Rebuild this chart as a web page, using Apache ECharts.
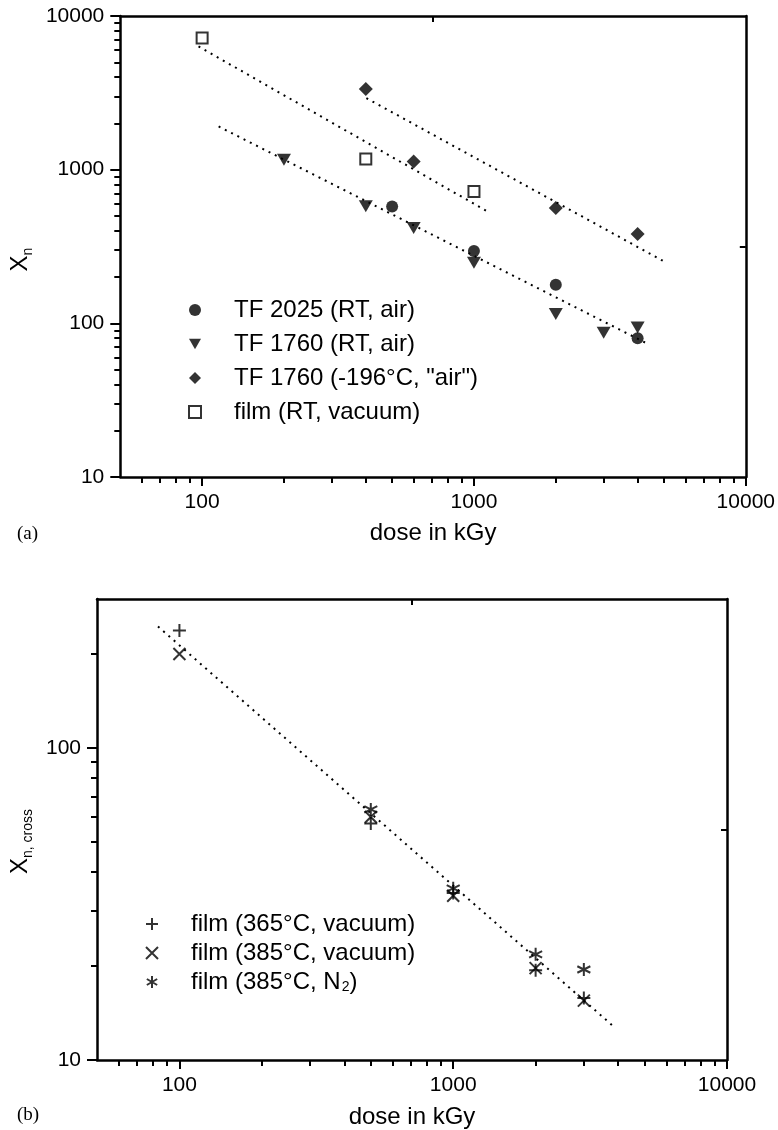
<!DOCTYPE html>
<html>
<head>
<meta charset="utf-8">
<script src="https://cdn.jsdelivr.net/npm/echarts@6/dist/echarts.min.js"></script>
<style>
html,body{margin:0;padding:0;background:#fff;}
#chart{width:778px;height:1130px;}
</style>
</head>
<body>
<div id="chart"></div>
<script>
// ---------- Panel (a) data ----------
const doseTF2025 = [500, 1000, 2000, 4000];
const xnTF2025 = [576, 296, 178, 80];
const doseTF1760 = [200, 400, 600, 1000, 2000, 3000, 4000];
const xnTF1760 = [1160, 577, 417, 248, 115, 87, 94];
const doseTF1760cold = [400, 600, 2000, 4000];
const xnTF1760cold = [3350, 1130, 562, 381];
const doseFilmA = [100, 400, 1000];
const xnFilmA = [7200, 1175, 721];
const fitFilmDose = [97, 1130];
const fitFilmXn = [6340, 530];
const fitColdDose = [402, 5080];
const fitColdXn = [2920, 249];
const fitRTDose = [115, 4420];
const fitRTXn = [1910, 72.6];

// ---------- Panel (b) data ----------
const dose365v = [100, 500, 1000, 2000, 3000];
const xc365v = [238, 57.3, 34.3, 19.4, 15.8];
const dose385v = [100, 500, 1000, 2000, 3000];
const xc385v = [200, 60.1, 33.6, 19.7, 15.5];
const dose385n = [500, 1000, 2000, 3000];
const xc385n = [63.5, 35.5, 21.8, 19.5];
const fitBDose = [83.5, 3855];
const fitBXc = [245, 12.8];

// ---------- axis ticks ----------
const xMajorTicks = [100, 1000, 10000];
const xMinorTicks = [60, 70, 80, 90, 200, 300, 400, 500, 600, 700, 800, 900, 2000, 3000, 4000, 5000, 6000, 7000, 8000, 9000];
const xMidTick = [707];
const yMajorTicksA = [10, 100, 1000, 10000];
const yMinorTicksA = [20, 30, 40, 50, 60, 70, 80, 90, 200, 300, 400, 500, 600, 700, 800, 900, 2000, 3000, 4000, 5000, 6000, 7000, 8000, 9000];
const yMidTickA = [316];
const yMajorTicksB = [10, 100];
const yMinorTicksB = [20, 30, 40, 50, 60, 70, 80, 90, 200];
const yMidTickB = [54.8];

const namesA = ['TF 2025 (RT, air)', 'TF 1760 (RT, air)', 'TF 1760 (-196°C, "air")', 'film (RT, vacuum)'];
const namesB = ['film (365°C, vacuum)', 'film (385°C, vacuum)', 'film (385°C, N2)'];

const FONT = 'Liberation Sans, Arial, Helvetica, sans-serif';
const zip = (a, b) => a.map((v, i) => [v, b[i]]);

const TRI_DOWN = 'path://M0,0 L12,0 L6,10.5 Z';
const PLUS = 'path://M5,0 L5,10 M0,5 L10,5';
const CROSS = 'path://M0,0 L10,10 M0,10 L10,0';
const STAR = 'path://M5,0 L5,10 M0.7,2.5 L9.3,7.5 M0.7,7.5 L9.3,2.5';

function xAxesFor(grid, min, max, nameGap) {
  return [
    { type: 'log', gridIndex: grid, position: 'bottom', min: min, max: max, logBase: 10,
      name: 'dose in kGy', nameLocation: 'middle', nameGap: nameGap,
      nameTextStyle: { fontFamily: FONT, fontSize: 24, color: '#000' },
      axisLine: { show: true, onZero: false, lineStyle: { color: '#000', width: 2.5 } },
      axisTick: { show: true, inside: false, length: 9, customValues: xMajorTicks, lineStyle: { color: '#000', width: 2 } },
      axisLabel: { show: true, customValues: xMajorTicks, margin: 15, fontFamily: FONT, fontSize: 21, color: '#000', formatter: v => String(Math.round(v)) },
      splitLine: { show: false }, minorTick: { show: false } },
    { type: 'log', gridIndex: grid, position: 'bottom', min: min, max: max,
      axisLine: { show: false, onZero: false },
      axisTick: { show: true, inside: false, length: 6, customValues: xMinorTicks, lineStyle: { color: '#000', width: 2 } },
      axisLabel: { show: false }, splitLine: { show: false } },
    { type: 'log', gridIndex: grid, position: 'top', min: min, max: max,
      axisLine: { show: true, onZero: false, lineStyle: { color: '#000', width: 2.5 } },
      axisTick: { show: true, inside: true, length: 6, customValues: xMidTick, lineStyle: { color: '#000', width: 2 } },
      axisLabel: { show: false }, splitLine: { show: false } }
  ];
}

function yAxesFor(grid, min, max, major, minor, mid, name, nameGap, namePad) {
  return [
    { type: 'log', gridIndex: grid, position: 'left', min: min, max: max,
      name: name, nameLocation: 'middle', nameGap: nameGap, nameRotate: 90,
      nameTextStyle: { fontFamily: FONT, color: '#000', padding: namePad,
        rich: { x: { fontFamily: FONT, fontSize: 24, color: '#000', lineHeight: 30 },
                sub: { fontFamily: FONT, fontSize: 14, color: '#000', lineHeight: 14, verticalAlign: 'bottom' } } },
      axisLine: { show: true, onZero: false, lineStyle: { color: '#000', width: 2.5 } },
      axisTick: { show: true, inside: false, length: 10, customValues: major, lineStyle: { color: '#000', width: 2 } },
      axisLabel: { show: true, customValues: major, margin: 16, fontFamily: FONT, fontSize: 21, color: '#000', formatter: v => String(Math.round(v)) },
      splitLine: { show: false } },
    { type: 'log', gridIndex: grid, position: 'left', min: min, max: max,
      axisLine: { show: false, onZero: false },
      axisTick: { show: true, inside: false, length: 6, customValues: minor, lineStyle: { color: '#000', width: 2 } },
      axisLabel: { show: false }, splitLine: { show: false } },
    { type: 'log', gridIndex: grid, position: 'right', min: min, max: max,
      axisLine: { show: true, onZero: false, lineStyle: { color: '#000', width: 2.5 } },
      axisTick: { show: true, inside: true, length: 6, customValues: mid, lineStyle: { color: '#000', width: 2 } },
      axisLabel: { show: false }, splitLine: { show: false } }
  ];
}

function fitLine(xi, yi, dose, val) {
  return { type: 'line', xAxisIndex: xi, yAxisIndex: yi, data: zip(dose, val), showSymbol: false, symbol: 'none',
    silent: true, z: 1, lineStyle: { color: '#000', width: 2, type: [2, 5] } };
}
function scat(name, xi, yi, dose, val, symbol, size, style) {
  return { name: name, type: 'scatter', xAxisIndex: xi, yAxisIndex: yi, data: zip(dose, val),
    symbol: symbol, symbolSize: size, z: 3, itemStyle: style, emphasis: { disabled: true } };
}
const solid = { color: '#000' };
const stroke = { color: 'rgba(0,0,0,0)', borderColor: '#000', borderWidth: 2 };

const legendBase = {
  orient: 'vertical', itemWidth: 12, itemHeight: 12,
  textStyle: { fontFamily: FONT, fontSize: 24, color: '#000', lineHeight: 24, padding: [0, 0, 0, 28],
    rich: { sub: { fontFamily: FONT, fontSize: 14, color: '#000', lineHeight: 12, verticalAlign: 'bottom', padding: [8, 0, 0, 1] } } },
  selectedMode: false
};

const option = {
  animation: false,
  backgroundColor: '#fff',
  grid: [
    { left: 119, top: 16, width: 629, height: 461 },
    { left: 97, top: 599, width: 630, height: 461 }
  ],
  xAxis: [].concat(xAxesFor(0, 50, 10000, 44), xAxesFor(1, 50, 10000, 45)),
  yAxis: [].concat(
    yAxesFor(0, 10, 10000, yMajorTicksA, yMinorTicksA, yMidTickA, '{x|X}{sub|n}', 82, [0, 26, 0, 0]),
    yAxesFor(1, 10, 300, yMajorTicksB, yMinorTicksB, yMidTickB, '{x|X}{sub|n, cross}', 57, [0, 24, 0, 0])
  ),
  legend: [
    Object.assign({}, legendBase, { left: 183, top: 293, itemGap: 10, data: namesA }),
    Object.assign({}, legendBase, { left: 140, top: 907, itemGap: 5, data: namesB,
      formatter: n => n === 'film (385°C, N2)' ? 'film (385°C, N{sub|2})' : n })
  ],
  series: [
    fitLine(0, 0, fitFilmDose, fitFilmXn),
    fitLine(0, 0, fitColdDose, fitColdXn),
    fitLine(0, 0, fitRTDose, fitRTXn),
    scat(namesA[0], 0, 0, doseTF2025, xnTF2025, 'circle', 12, solid),
    scat(namesA[1], 0, 0, doseTF1760, xnTF1760, TRI_DOWN, [14, 12], solid),
    scat(namesA[2], 0, 0, doseTF1760cold, xnTF1760cold, 'diamond', 14, solid),
    scat(namesA[3], 0, 0, doseFilmA, xnFilmA, 'rect', 11, { color: '#fff', borderColor: '#000', borderWidth: 2 }),
    fitLine(3, 3, fitBDose, fitBXc),
    scat(namesB[0], 3, 3, dose365v, xc365v, PLUS, 13, stroke),
    scat(namesB[1], 3, 3, dose385v, xc385v, CROSS, 12, stroke),
    scat(namesB[2], 3, 3, dose385n, xc385n, STAR, 13, stroke)
  ],
  graphic: [
    { type: 'text', left: 17, top: 525, style: { text: '(a)', font: '19px "Liberation Serif", "Times New Roman", serif', fill: '#000' } },
    { type: 'text', left: 17, top: 1106, style: { text: '(b)', font: '19px "Liberation Serif", "Times New Roman", serif', fill: '#000' } }
  ]
};

const chart = echarts.init(document.getElementById('chart'), null, { renderer: 'canvas' });
chart.setOption(option);
</script>
</body>
</html>
